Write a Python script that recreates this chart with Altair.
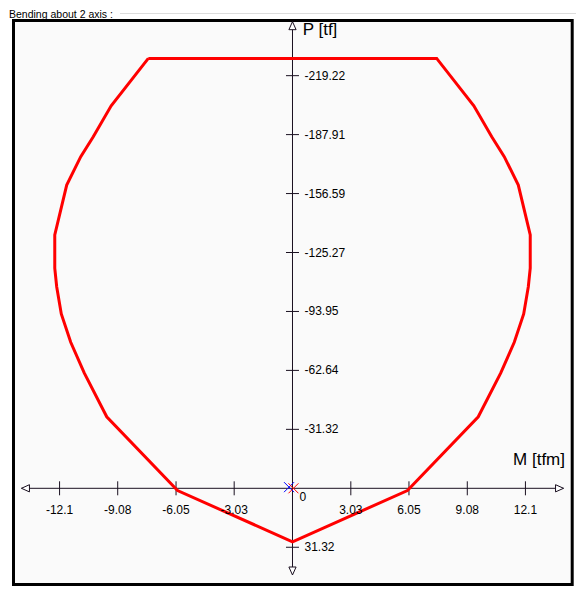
import altair as alt
import pandas as pd

# ---- data ----
m_values = [-7.49, 7.49, 9.42, 10.35, 11.0, 11.73, 12.35, 12.35, 12.25, 12.01, 11.52, 10.82, 9.65, 5.97, 0.0,
            -5.97, -9.65, -10.82, -11.52, -12.01, -12.25, -12.35, -12.35, -11.73, -11.0, -10.35, -9.42, -7.49]
p_values = [-228.4, -228.4, -203.2, -186.8, -176.2, -161.1, -134.6, -116.9, -107.1, -92.6, -77.6, -61.3, -38.0, 1.2, 28.4,
            1.2, -38.0, -61.3, -77.6, -92.6, -107.1, -116.9, -134.6, -161.1, -176.2, -186.8, -203.2, -228.4]

x_ticks = [-12.1, -9.08, -6.05, -3.03, 3.03, 6.05, 9.08, 12.1]
x_tick_labels = ["-12.1", "-9.08", "-6.05", "-3.03", "3.03", "6.05", "9.08", "12.1"]
y_ticks = [-219.22, -187.91, -156.59, -125.27, -93.95, -62.64, -31.32, 31.32]
y_tick_labels = ["-219.22", "-187.91", "-156.59", "-125.27", "-93.95", "-62.64", "-31.32", "31.32"]

x_axis_extent = [-14.08, 14.08]
y_axis_extent = [-247.9, 46.06]

title_text = "Bending about 2 axis :"
x_title = "M [tfm]"
y_title = "P [tf]"

FONT = "Liberation Sans"
W, H = 568, 578

xs = alt.Scale(domain=[-14.7792, 14.7273], nice=False, zero=False)
ys = alt.Scale(domain=[-255.17, 51.905], nice=False, zero=False, reverse=True)

one = pd.DataFrame({"k": [0]})

# group box line (top part visible inside the page)
g_top = alt.Chart(one).mark_rule(color="#dcdcdc", strokeWidth=1).encode(
    x=alt.value(112), x2=alt.value(W), y=alt.value(5.5))

title = alt.Chart(one).mark_text(text=title_text, font=FONT, fontSize=10.5, align="left",
                                 baseline="alphabetic", color="black").encode(
    x=alt.value(1), y=alt.value(9.8))

frame = alt.Chart(one).mark_rect(fill="#fafafa", stroke="black", strokeWidth=3).encode(
    x=alt.value(5.5), x2=alt.value(564.2), y=alt.value(12.5), y2=alt.value(576.5))

axes_df = pd.DataFrame({
    "x1": [x_axis_extent[0], 0.0], "x2": [x_axis_extent[1], 0.0],
    "y1": [0.0, y_axis_extent[0]], "y2": [0.0, y_axis_extent[1]],
})
axes = alt.Chart(axes_df).mark_rule(color="#1a1020", strokeWidth=1).encode(
    x=alt.X("x1:Q", scale=xs, axis=None), x2="x2:Q",
    y=alt.Y("y1:Q", scale=ys, axis=None), y2="y2:Q")

xt_df = pd.DataFrame({"m": x_ticks, "p": [0.0] * len(x_ticks), "label": x_tick_labels})
yt_df = pd.DataFrame({"m": [0.0] * len(y_ticks), "p": y_ticks, "label": y_tick_labels})

x_tick_marks = alt.Chart(xt_df).mark_point(shape="M0,-1L0,1", size=196, color="#1a1020",
                                           strokeWidth=1, filled=False, opacity=1).encode(
    x=alt.X("m:Q", scale=xs, axis=None), y=alt.Y("p:Q", scale=ys, axis=None))
y_tick_marks = alt.Chart(yt_df).mark_point(shape="M-1,0L1,0", size=169, color="#1a1020",
                                           strokeWidth=1, filled=False, opacity=1).encode(
    x=alt.X("m:Q", scale=xs, axis=None), y=alt.Y("p:Q", scale=ys, axis=None))

x_tick_text = alt.Chart(xt_df).mark_text(font=FONT, fontSize=12, align="center", baseline="middle",
                                         dy=22, color="black").encode(
    x=alt.X("m:Q", scale=xs, axis=None), y=alt.Y("p:Q", scale=ys, axis=None), text="label:N")
y_tick_text = alt.Chart(yt_df).mark_text(font=FONT, fontSize=12, align="left", baseline="middle",
                                         dx=12, color="black").encode(
    x=alt.X("m:Q", scale=xs, axis=None), y=alt.Y("p:Q", scale=ys, axis=None), text="label:N")

zero_text = alt.Chart(one).mark_text(text="0", font=FONT, fontSize=12, align="left", baseline="middle",
                                     dx=7, dy=9, color="black").encode(
    x=alt.X("datum_x:Q", scale=xs, axis=None), y=alt.Y("datum_y:Q", scale=ys, axis=None)
).transform_calculate(datum_x="0", datum_y="0")

arrows_df = pd.DataFrame({
    "m": [x_axis_extent[0], x_axis_extent[1], 0.0, 0.0],
    "p": [0.0, 0.0, y_axis_extent[0], y_axis_extent[1]],
    "dir": ["left", "right", "up", "down"],
})
arrow_shapes = {
    "left": "M0,0L2,-0.9L2,0.9Z",
    "right": "M0,0L-2,-0.9L-2,0.9Z",
    "up": "M0,0L-0.9,2L0.9,2Z",
    "down": "M0,0L-0.9,-2L0.9,-2Z",
}
arrow_layers = []
for d, shp in arrow_shapes.items():
    arrow_layers.append(
        alt.Chart(arrows_df[arrows_df["dir"] == d]).mark_point(
            shape=shp, size=64, fill="white", stroke="#1a1020", strokeWidth=1, filled=False,
            fillOpacity=1, opacity=1).encode(
            x=alt.X("m:Q", scale=xs, axis=None), y=alt.Y("p:Q", scale=ys, axis=None)))

curve_df = pd.DataFrame({"m": m_values, "p": p_values, "i": list(range(len(m_values)))})
curve = alt.Chart(curve_df).mark_line(color="#ff0000", strokeWidth=3, strokeJoin="miter").encode(
    x=alt.X("m:Q", scale=xs, axis=None), y=alt.Y("p:Q", scale=ys, axis=None), order="i:Q")

cross_df = pd.DataFrame({"m": [0.05, -0.18], "p": [0.0, -0.6], "c": ["#ff0000", "#0000ff"]})
crosses = alt.Chart(cross_df).mark_point(shape="M-1,-1L1,1M-1,1L1,-1", size=100, strokeWidth=1,
                                         filled=False, opacity=1).encode(
    x=alt.X("m:Q", scale=xs, axis=None), y=alt.Y("p:Q", scale=ys, axis=None),
    stroke=alt.Stroke("c:N", scale=None), order=alt.Order("c:N"))

x_title_mark = alt.Chart(one).mark_text(text=x_title, font=FONT, fontSize=17, align="right",
                                        baseline="alphabetic", color="black").encode(
    x=alt.value(557), y=alt.value(457))
y_title_mark = alt.Chart(one).mark_text(text=y_title, font=FONT, fontSize=17, align="left",
                                        baseline="alphabetic", color="black").encode(
    x=alt.value(294.7), y=alt.value(27))

chart = alt.layer(
    g_top, title, frame, axes, x_tick_marks, y_tick_marks,
    *arrow_layers, curve, crosses, x_tick_text, y_tick_text, zero_text, x_title_mark, y_title_mark
).properties(
    width=W, height=H, autosize="none", padding=0, background="white"
).configure_view(stroke=None)

chart.save("out.html", embed_options={"renderer": "svg", "actions": False})
